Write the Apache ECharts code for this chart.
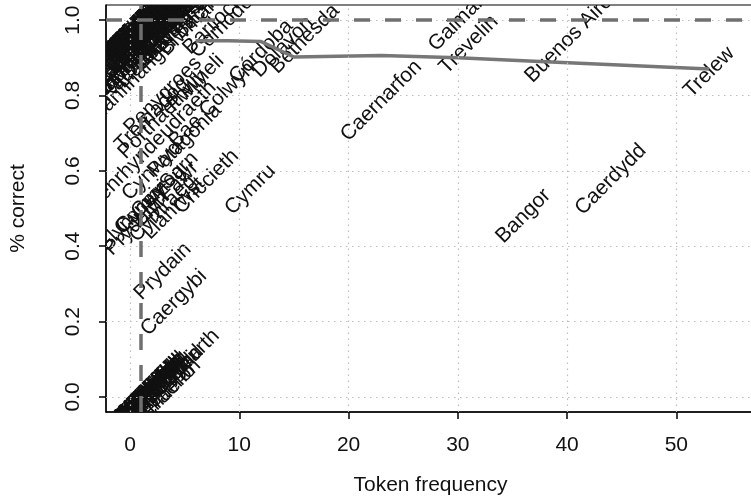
<!DOCTYPE html>
<html><head><meta charset="utf-8">
<script src="https://cdn.jsdelivr.net/npm/echarts@6/dist/echarts.min.js"></script>
<style>html,body{margin:0;padding:0;background:#fff}#c{width:751px;height:499px}</style>
</head><body><div id="c"></div>
<script>
// ---- data ----
const labelNames = [
  // frequency 1, 100% correct
  "Aberdyfi","Abergele","Amlwch","Bethel","Bodedern","Brynsiencyn","Caeathro","Capel Curig","Carmel","Cemaes",
  "Clynnog Fawr","Deiniolen","Dinas Dinlle","Edern","Ffestiniog","Gwalchmai","Llanaelhaearn","Llandwrog","Llanllyfni","Llanrug",
  "Llanwnda","Morfa Nefyn","Nefyn","Rhiw","Rhosneigr","Rhostryfan","Talysarn","Trefor","Tudweiliog","Waunfawr",
  "Y Felinheli","Y Groeslon",
  // frequency 2, 100% correct
  "Abersoch","Beddgelert","Bontnewydd","Bryncir","Chwilog","Dolbenmaen","Llanystumdwy","Rhydyclafdy",
  "Llanddaniel Fab","Llanfaethlu","Llansannan","Pentrefoelas","Cerrigydrudion","Trawsfynydd",
  "Llangristiolus","Llanfachraeth","Bodorgan","Aberffraw",
  // frequency 3, 100% correct
  "Blaenau Ffestiniog","Llanbedrog","Garndolbenmaen","Llangefni","Benllech",
  "Llanuwchllyn","Llanfrothen","Penmaenmawr","Llanfairfechan","Rhosllannerchrugog","Llanddeiniolen",
  "Llanerchymedd","Llanfairynghornwy","Rhoshirwaun",
  // frequency 4-9, 100% correct
  "Cynwyl Elfed","Llanberis","Dinorwig","Mynydd Llandygai","Brynrefail Llanddeiniolen","Llangernyw Dwygyfylchi",
  "Llanarmon Dyffryn Ceiriog","Llanrhaeadr-ym-Mochnant",
  "Betws-y-Coed","Borth-y-Gest","Llanllechid Tregarth","Biwmares","Bariloche","Comodoro",
  // frequency 2-3, 95% correct
  "Talybont","Rachub Bethesda","Llanfihangel Bachellaeth",
  // scattered
  "Córdoba","Dolavon","Bethesda","Gaiman","Trevelin","Buenos Aires","Trelew","Caernarfon","Bangor","Caerdydd",
  "Cymru","Criccieth","Pwllheli","Bae Colwyn","Penygroes","Porthaethwy","Penrhyndeudraeth","Patagonia","Sarn","Cynwyd",
  "Tremadog","Llanrwst",
  "Conwy","Glyn Ceiriog","Cymry","Llŷn","Prydain Fawr","Cymraeg","Prydain","Caergybi",
  // 0% correct
  "Abertawe","Casnewydd","Wrecsam","Dinbych","Rhuthun","Yr Wyddgrug","Hwlffordd","Caerfyrddin","Aberhonddu","Y Fenni",
  "Trefynwy","Castell-nedd","Pen-y-bont","Y Barri","Llanelwy","Treffynnon","Aberteifi","Llanbedr","Y Trallwng","Y Bala",
  "Dolgellau","Tywyn","Harlech","Abermaw","Aberystwyth","Llandrindod","Caerffili","Pontypridd",
  "Glynebwy","Tredegar","Llanandras","Trefyclo","Llanidloes","Aberdâr",
  "Llanymddyfri","Castellnewydd","Llanfihangel-ar-arth","Machynlleth","Aberaeron","Llandeilo","Llanwrtyd"
];
const labelFreq = [
  1,1,1,1,1,1,1,1,1,1, 1,1,1,1,1,1,1,1,1,1, 1,1,1,1,1,1,1,1,1,1, 1,1,
  2,2,2,2,2,2,2,2, 2,2,2,2,2,2, 2,2,2,2,
  3,3,3,3,3, 3,3,3,3,3,3, 3,3,3,
  4,4,4,4,4,4, 4,4, 5,5,5,6,8,9,
  2,3,4,
  12,14,16,30,31,40.5,53,23,36,44,
  11,7,6,7.5,3,3,2,5,4.5,2,
  2,4,
  1,1,1,2,2,3,3,4,
  1,1,1,1,1,1,1,1,1,1, 1,1,1,1,1,1,1,1,1,1, 1,1,1,1,1,1,1,1,
  1,1,1,1,1,1,
  2,2,2,2,3,3,2
];
const labelCorrect = [
  1,1,1,1,1,1,1,1,1,1, 1,1,1,1,1,1,1,1,1,1, 1,1,1,1,1,1,1,1,1,1, 1,1,
  1,1,1,1,1,1,1,1, 1,1,1,1,1,1, 1,1,1,1,
  1,1,1,1,1, 1,1,1,1,1,1, 1,1,1,
  1,1,1,1,1,1, 1,1, 1,1,1,1,1,1,
  0.95,0.95,0.95,
  0.917,0.929,0.95,0.995,0.935,0.96,0.862,0.786,0.48,0.577,
  0.55,0.571,0.833,0.775,0.8,0.75,0.667,0.68,0.6,0.6,
  0.75,0.5,
  0.5,0.5,0.5,0.5,0.5,0.5,0.333,0.25,
  0,0,0,0,0,0,0,0,0,0, 0,0,0,0,0,0,0,0,0,0, 0,0,0,0,0,0,0,0,
  0,0,0,0,0,0,
  0,0,0,0,0,0,0
];
const lineFreq    = [6, 9, 12, 15, 23, 30, 37, 53];
const lineCorrect = [0.945, 0.945, 0.943, 0.902, 0.906, 0.900, 0.891, 0.870];
const xTickLabels = [0, 10, 20, 30, 40, 50];
const xTickMarks  = [10, 20, 30, 40, 50];
const yTickLabels = [0, 0.2, 0.4, 0.6, 0.8, 1.0];
const refFreq = 1;
const refCorrect = 1;

const FONT = '"Liberation Sans", Arial, Helvetica, sans-serif';
const chart = echarts.init(document.getElementById('c'), null, {renderer: 'canvas'});

const labelData = labelFreq.map((f, i) => [f, labelCorrect[i]]);
const lineData = lineFreq.map((f, i) => [f, lineCorrect[i]]);

const option = {
  animation: false,
  backgroundColor: '#fff',
  grid: {left: 106, right: -4, top: 5, bottom: 87, show: true, borderColor: '#000', borderWidth: 1,
         backgroundColor: 'transparent', containLabel: false, outerBoundsMode: 'none'},
  xAxis: {
    type: 'value', min: -2.2, max: 57.2,
    name: 'Token frequency', nameLocation: 'middle', nameGap: 63,
    nameTextStyle: {fontFamily: FONT, fontSize: 21, color: '#111'},
    axisLine: {show: true, onZero: false, lineStyle: {color: '#000', width: 1.5}},
    axisTick: {show: true, customValues: xTickMarks, length: 7, lineStyle: {color: '#000', width: 1.5}},
    axisLabel: {customValues: xTickLabels, margin: 23, fontFamily: FONT, fontSize: 21, color: '#111'},
    splitLine: {show: false}
  },
  yAxis: {
    type: 'value', min: -0.04, max: 1.04,
    name: '% correct', nameLocation: 'middle', nameGap: 77,
    nameTextStyle: {fontFamily: FONT, fontSize: 21, color: '#111'},
    axisLine: {show: true, onZero: false, lineStyle: {color: '#000', width: 1.5}},
    axisTick: {show: true, customValues: yTickLabels, length: 7, lineStyle: {color: '#000', width: 1.5}},
    axisLabel: {customValues: yTickLabels, rotate: 90, margin: 22, fontFamily: FONT, fontSize: 21, color: '#111',
                formatter: v => Number(v).toFixed(1)},
    splitLine: {show: false}
  },
  series: [
    {
      type: 'line', data: [], z: 1, silent: true,
      markLine: {
        silent: true, symbol: ['none', 'none'], label: {show: false}, animation: false,
        lineStyle: {type: [1.5, 4.5], color: '#bdbdbd', width: 1.2},
        data: xTickLabels.map(v => ({xAxis: v})).concat(yTickLabels.map(v => ({yAxis: v})))
      }
    },
    {
      type: 'line', data: [], z: 2, silent: true,
      markLine: {
        silent: true, symbol: ['none', 'none'], label: {show: false}, animation: false,
        lineStyle: {type: [16, 15], color: '#707070', width: 3.5},
        data: [{xAxis: refFreq}, {yAxis: refCorrect}]
      }
    },
    {
      type: 'custom', z: 3, clip: true, silent: true,
      data: labelData,
      encode: {x: 0, y: 1},
      renderItem: function (params, api) {
        const p = api.coord([api.value(0), api.value(1)]);
        return {
          type: 'text', x: p[0], y: p[1], rotation: Math.PI / 4,
          style: {
            text: labelNames[params.dataIndex],
            fontFamily: FONT, fontSize: 21, fill: '#111',
            align: 'center', verticalAlign: 'middle',
            textAlign: 'center', textVerticalAlign: 'middle'
          }
        };
      }
    },
    {
      type: 'line', z: 4, data: lineData, showSymbol: false, symbol: 'none', clip: true,
      lineStyle: {color: '#777', width: 3.5}
    }
  ]
};
chart.setOption(option);
</script></body></html>
